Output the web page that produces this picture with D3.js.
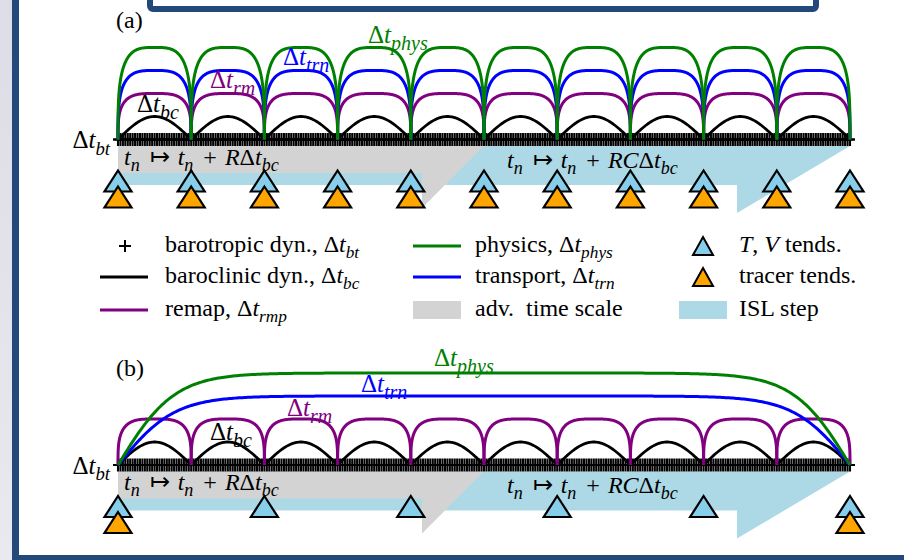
<!DOCTYPE html>
<html>
<head>
<meta charset="utf-8">
<script src="https://cdn.jsdelivr.net/npm/d3@7"></script>
<style>
  html, body { margin: 0; padding: 0; background: #ffffff; }
  svg { display: block; }
</style>
</head>
<body>
<svg id="chart" width="904" height="560"></svg>
<script>
// ---- time-stepping layout data (all in units of the baroclinic step) ----
const bcSteps = [0, 1, 2, 3, 4, 5, 6, 7, 8, 9, 10];
const btPerBc = 30;                       // barotropic sub-steps per baroclinic step
const processNames = ["bc", "rmp", "trn", "phys"];
const processColors = ["#000000", "#800080", "#0000ff", "#008000"];
const processHeights = [1, 2, 3, 4];      // relative arc heights
const intervalsA = [1, 1, 1, 1];          // coupling intervals, panel (a)
const intervalsB = [1, 1, 10, 10];        // coupling intervals, panel (b)
const tvTendsA = [0, 1, 2, 3, 4, 5, 6, 7, 8, 9, 10];
const tracerTendsA = [0, 1, 2, 3, 4, 5, 6, 7, 8, 9, 10];
const tvTendsB = [0, 2, 4, 6, 8, 10];
const tracerTendsB = [0, 10];
const advReach = 5;    // R
const islReach = 10;   // R*C
const panelLabels = ["(a)", "(b)"];

const svg = d3.select("#chart");
const FONT = "'Liberation Serif', 'Times New Roman', serif";
const frameBlue = "#23497a";

// ---- slide frame ----
const defs = svg.append("defs");
const grad = defs.append("linearGradient").attr("id", "side").attr("x1", 0).attr("x2", 0).attr("y1", 0).attr("y2", 1);
grad.append("stop").attr("offset", 0).attr("stop-color", "#dcdde6");
grad.append("stop").attr("offset", 1).attr("stop-color", "#e9e9ef");
svg.append("rect").attr("x", 0).attr("y", 0).attr("width", 12).attr("height", 560).attr("fill", "url(#side)");
svg.append("rect").attr("x", 12).attr("y", 0).attr("width", 7).attr("height", 560).attr("fill", frameBlue);
svg.append("rect").attr("x", 12).attr("y", 555).attr("width", 892).attr("height", 5).attr("fill", frameBlue);
svg.append("rect").attr("x", 150).attr("y", -20).attr("width", 666).attr("height", 29).attr("rx", 3)
  .attr("fill", "#ffffff").attr("stroke", frameBlue).attr("stroke-width", 6);

// ---- helpers ----
const x = d3.scaleLinear().domain([0, 10]).range([118, 850]);

// math-style text: pieces of [text, style, extraGap] where style is
// "r" roman, "i" italic, "s" italic subscript
function mathText(g, px, py, pieces, opts) {
  const o = Object.assign({ size: 23, color: "#000", anchor: "start", sub: 0.72 }, opts || {});
  const t = g.append("text").attr("x", px).attr("y", py)
    .attr("font-family", FONT).attr("font-size", o.size).attr("fill", o.color)
    .attr("text-anchor", o.anchor);
  let prevSub = false;
  pieces.forEach(([str, st, gap]) => {
    const sp = t.append("tspan").text(str).attr("xml:space", "preserve");
    if (gap) sp.attr("dx", gap);
    if (st === "i" || st === "s") sp.attr("font-style", "italic");
    if (st === "s") {
      sp.attr("font-size", o.size * o.sub);
      if (!prevSub) sp.attr("dy", o.size * 0.26);
      prevSub = true;
    } else {
      if (prevSub) sp.attr("dy", -o.size * 0.26);
      prevSub = false;
    }
  });
  return t;
}
const dt = sub => [["Δ", "r"], ["t", "i"], [sub, "s"]];

// arc profile in data units: short couplings are drawn as flat-topped
// superellipses, the long ones as a tanh ramp at both ends
function arcPoints(a, b, h, kind) {
  const pts = [];
  if (kind === "sine") {
    for (let i = 0; i <= 80; i++) {
      const t = i / 80;
      pts.push([a + (b - a) * t, h * Math.sin(Math.PI * t)]);
    }
  } else if (kind === "super") {
    const n = 3.5;
    for (let i = 0; i <= 240; i++) {
      const th = Math.PI - Math.PI * i / 240;
      const c = Math.cos(th), s = Math.max(0, Math.sin(th));
      const u = Math.sign(c) * Math.pow(Math.abs(c), 2 / n);
      pts.push([a + (b - a) * (u + 1) / 2, h * Math.pow(s, 2 / n)]);
    }
  } else {
    for (let i = 0; i <= 400; i++) {
      const t = i / 400;
      pts.push([a + (b - a) * t, h * Math.tanh(13 * t) * Math.tanh(13 * (1 - t))]);
    }
  }
  return pts;
}

function trianglePath(cx, apexY, hw, h) {
  return `M${cx},${apexY}L${cx + hw},${apexY + h}L${cx - hw},${apexY + h}Z`;
}

// ---- one panel ----
function drawPanel(base, intervals, tvTends, tracerTends, label, labelPos) {
  const g = svg.append("g");
  const y = d3.scaleLinear().domain([0, 4]).range([base, base - 92]);

  // ISL step arrow (half arrow, head on the lower side)
  const islTop = base + 6.5, islBot = base + 45.5, islHead = base + 73.5;
  const islHeadX = x(islReach) - 113;
  g.append("path").attr("fill", "#add8e6")
    .attr("d", `M${x(0)},${islTop}L${x(islReach)},${islTop}L${islHeadX},${islHead}L${islHeadX},${islBot}L${x(0)},${islBot}Z`);
  // advective time scale arrow
  const advTop = base + 6.5, advBot = base + 33.5, advHead = base + 68.5;
  const advHeadX = x(advReach) - 62;
  g.append("path").attr("fill", "#d3d3d3")
    .attr("d", `M${x(0)},${advTop}L${x(advReach)},${advTop}L${advHeadX},${advHead}L${advHeadX},${advBot}L${x(0)},${advBot}Z`);

  const arrowText = coef => [["t", "i"], ["n", "s"], ["↦", "r", 10], ["t", "i", 8], ["n", "s"], ["+", "r", 10],
    [coef, "i", 8], ["Δ", "r"], ["t", "i"], ["bc", "s"]];
  mathText(g, 124, base + 25, arrowText("R"), { size: 24, sub: 0.75 });
  mathText(g, 507, base + 28, arrowText("RC"), { size: 24, sub: 0.75 });

  // barotropic sub-steps drawn as '+' markers
  const bt = d3.range(0, 10 * btPerBc + 1).map(i => i / btPerBc);
  g.append("g").selectAll("path").data(bt).join("path")
    .attr("d", d => `M${x(d)},${base - 6.5}V${base + 6.5}M${x(d) - 5},${base}H${x(d) + 5}`)
    .attr("stroke", "#000").attr("stroke-width", 2.1).attr("fill", "none");
  g.append("line").attr("x1", x(0) - 5).attr("x2", x(10) + 5).attr("y1", base).attr("y2", base)
    .attr("stroke", "#000").attr("stroke-width", 2.2);

  // process arcs
  const line = d3.line().x(d => x(d[0])).y(d => y(d[1])).curve(d3.curveLinear);
  processNames.forEach((name, k) => {
    const step = intervals[k];
    const starts = d3.range(0, 10, step);
    const kind = name === "bc" ? "sine" : (step > 2 ? "tanh" : "super");
    g.append("g").selectAll("path").data(starts).join("path")
      .attr("d", s => line(arcPoints(s, s + step, processHeights[k], kind)))
      .attr("fill", "none").attr("stroke", processColors[k]).attr("stroke-width", name === "bc" ? 2.8 : 3)
      .attr("stroke-linejoin", "round");
  });

  // tendency markers
  g.append("g").selectAll("path").data(tvTends).join("path")
    .attr("d", d => trianglePath(x(d), base + 31, 13.5, 21))
    .attr("fill", "#87ceeb").attr("stroke", "#000").attr("stroke-width", 2.2).attr("stroke-linejoin", "miter");
  g.append("g").selectAll("path").data(tracerTends).join("path")
    .attr("d", d => trianglePath(x(d), base + 47, 13.5, 21))
    .attr("fill", "#ffa500").attr("stroke", "#000").attr("stroke-width", 2.2).attr("stroke-linejoin", "miter");

  // labels
  g.append("text").attr("x", 116).attr("y", labelPos.panel).attr("font-family", FONT).attr("font-size", 24).text(label);
  mathText(g, 110, base + 8.5, dt("bt"), { anchor: "end", size: 25, sub: 0.75 });
  labelPos.arcs.forEach((p, k) => {
    mathText(g, p[0], p[1], dt(k === 1 ? "rm" : processNames[k]), { color: processColors[k], size: 25, sub: 0.8 });
  });
}

drawPanel(139.5, intervalsA, tvTendsA, tracerTendsA, panelLabels[0],
  { panel: 28, arcs: [[137, 112], [210, 88], [283, 65], [368, 43]] });
drawPanel(465, intervalsB, tvTendsB, tracerTendsB, panelLabels[1],
  { panel: 376, arcs: [[210, 440], [287, 416], [361, 392], [434, 366]] });

// ---- legend ----
const lg = svg.append("g");
const rows = [246, 277, 310];
const LS = 24;
// column 1
lg.append("path").attr("d", `M125,${rows[0] - 6}V${rows[0] + 6}M119,${rows[0]}H131`).attr("stroke", "#000").attr("stroke-width", 2);
lg.append("line").attr("x1", 100).attr("x2", 148).attr("y1", rows[1]).attr("y2", rows[1]).attr("stroke", processColors[0]).attr("stroke-width", 3);
lg.append("line").attr("x1", 100).attr("x2", 148).attr("y1", rows[2]).attr("y2", rows[2]).attr("stroke", processColors[1]).attr("stroke-width", 3);
mathText(lg, 165, rows[0] + 6, [["barotropic dyn., ", "r"]].concat(dt("bt")), { size: LS });
mathText(lg, 165, rows[1] + 6, [["baroclinic dyn., ", "r"]].concat(dt("bc")), { size: LS });
mathText(lg, 165, rows[2] + 6, [["remap, ", "r"]].concat(dt("rmp")), { size: LS });
// column 2
lg.append("line").attr("x1", 413).attr("x2", 461).attr("y1", rows[0]).attr("y2", rows[0]).attr("stroke", processColors[3]).attr("stroke-width", 3);
lg.append("line").attr("x1", 413).attr("x2", 461).attr("y1", rows[1]).attr("y2", rows[1]).attr("stroke", processColors[2]).attr("stroke-width", 3);
lg.append("rect").attr("x", 413).attr("y", rows[2] - 9).attr("width", 48).attr("height", 18).attr("fill", "#d3d3d3");
mathText(lg, 475, rows[0] + 6, [["physics, ", "r"]].concat(dt("phys")), { size: LS });
mathText(lg, 475, rows[1] + 6, [["transport, ", "r"]].concat(dt("trn")), { size: LS });
mathText(lg, 475, rows[2] + 6, [["adv.  time scale", "r"]], { size: LS });
// column 3
lg.append("path").attr("d", trianglePath(703, rows[0] - 9, 10, 18)).attr("fill", "#87ceeb").attr("stroke", "#000").attr("stroke-width", 2);
lg.append("path").attr("d", trianglePath(703, rows[1] - 9, 10, 18)).attr("fill", "#ffa500").attr("stroke", "#000").attr("stroke-width", 2);
lg.append("rect").attr("x", 679).attr("y", rows[2] - 9).attr("width", 48).attr("height", 18).attr("fill", "#add8e6");
mathText(lg, 739, rows[0] + 6, [["T", "i"], [", ", "r"], ["V", "i"], [" tends.", "r"]], { size: LS });
mathText(lg, 739, rows[1] + 6, [["tracer tends.", "r"]], { size: LS });
mathText(lg, 739, rows[2] + 6, [["ISL step", "r"]], { size: LS });
</script>
</body>
</html>
